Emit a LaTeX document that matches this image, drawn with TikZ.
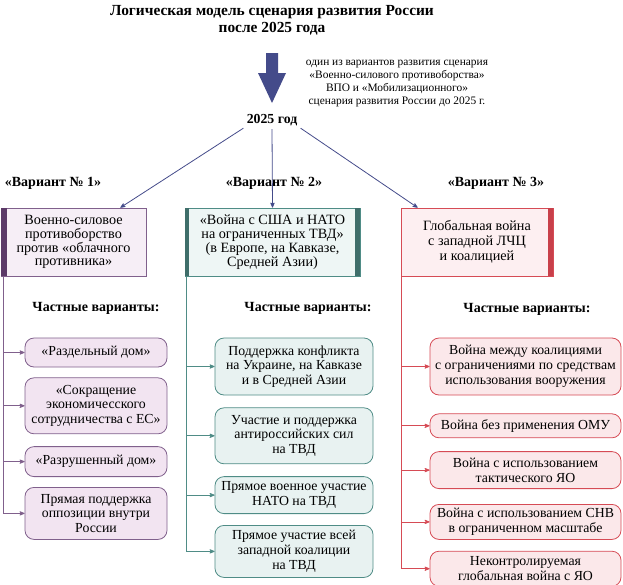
\documentclass[tikz,border=0pt]{standalone}
\usepackage{fontspec}
\setmainfont{Liberation Serif}
\usepackage{xcolor}
\definecolor{colorBlue}{HTML}{444B8A}
\definecolor{colorLilac}{HTML}{80608C}
\definecolor{colorLilacBar}{HTML}{5C3A68}
\definecolor{colorLilacFill}{HTML}{F6EEF6}
\definecolor{colorLilacSub}{HTML}{F2E4F1}
\definecolor{colorTeal}{HTML}{4F8C86}
\definecolor{colorTealBar}{HTML}{3F6E6A}
\definecolor{colorTealFill}{HTML}{EEF6F5}
\definecolor{colorTealSub}{HTML}{E8F2F1}
\definecolor{colorRed}{HTML}{D64B55}
\definecolor{colorRedBar}{HTML}{C8404A}
\definecolor{colorRedFill}{HTML}{FDEFF1}
\definecolor{colorRedSub}{HTML}{FBE8EA}
\usepackage{tikz}
\usetikzlibrary{arrows, positioning}
\tikzset{
  titletext/.style={align=center, inner sep=0pt, font=\bfseries\fontsize{15.4}{17}\selectfont},
  notetext/.style={align=center, inner sep=0pt, font=\fontsize{11.4}{13}\selectfont},
  boldtext/.style={inner sep=0pt, font=\bfseries\fontsize{14}{15}\selectfont},
  varbox/.style={draw, line width=0.8pt, inner sep=2pt, align=center, minimum height=68pt, font=\fontsize{14.2}{13.8}\selectfont},
  subbox/.style={draw, line width=0.8pt, rounded corners=9pt, inner sep=2pt, align=center, font=\fontsize{13.8}{14.8}\selectfont},
  lilac/.style={draw=colorLilac, fill=colorLilacSub, minimum width=142pt},
  teal/.style={draw=colorTeal, fill=colorTealSub, minimum width=158pt},
  red/.style={draw=colorRed, fill=colorRedSub, minimum width=191pt},
}

\begin{document}
\begin{tikzpicture}[>=stealth', x=1pt, y=-1pt, line width=0.8pt, node distance=11pt]
\useasboundingbox (0,0) rectangle (623,584);
% title and the big arrow
\node[titletext] (title) at (272,20) {Логическая модель сценария развития России\\после 2025 года};
\fill[colorBlue] (266,53) -- (278,53) -- (278,73) -- (286,73) -- (272,103) -- (258,73) -- (266,73) -- cycle;
\node[notetext] (note) at (397,84) {один из вариантов развития сценария\\«Военно-силового противоборства»\\ВПО и «Мобилизационного»\\сценария развития России до 2025 г.};
\node[boldtext, font=\bfseries\fontsize{13.8}{15}\selectfont] (y2025) at (272,120) {2025 год};

% three variants
\node[boldtext] (n1) at (53,183) {«Вариант № 1»};
\node[boldtext] (n2) at (274,183) {«Вариант № 2»};
\node[boldtext] (n3) at (496,183) {«Вариант № 3»};
\node[varbox, draw=colorLilac, fill=colorLilacFill, minimum width=145pt] (v1) at (73.5,242) {Военно-силовое\\противоборство\\против «облачного\\противника»};
\node[varbox, draw=colorTeal, fill=colorTealFill, minimum width=175pt] (v2) at (272.5,242) {«Война с США и НАТО\\на ограниченных ТВД»\\(в Европе, на Кавказе,\\Средней Азии)};
\node[varbox, draw=colorRed, fill=colorRedFill, minimum width=152pt, font=\fontsize{14.2}{15}\selectfont] (v3) at (477,242) {Глобальная война\\с западной ЛЧЦ\\и коалицией};
\fill[colorLilacBar] (v1.north west) rectangle ([xshift=6pt]v1.south west);
\fill[colorTealBar] (v2.north west) rectangle ([xshift=4pt]v2.south west);
\fill[colorTealBar] ([xshift=-5pt]v2.north east) rectangle (v2.south east);
\fill[colorRedBar] ([xshift=-5pt]v3.north east) rectangle (v3.south east);
\draw [->, colorBlue] ([shift={(-3pt,-2pt)}]y2025.south west) -- ([xshift=-26pt]v1.north east);
\draw [->, colorBlue] ([yshift=-3pt]y2025.south) -- (v2.north);
\draw [->, colorBlue] ([shift={(3pt,-2pt)}]y2025.south east) -- ([xshift=17pt]v3.north west);

\node[boldtext] (p1) at (96,308) {Частные варианты:};
\node[boldtext] (p2) at (308,308) {Частные варианты:};
\node[boldtext] (p3) at (527,309) {Частные варианты:};

% variant 1
\node[subbox, lilac, minimum height=29pt] (s11) at (96,352.5) {«Раздельный дом»};
\node[subbox, lilac, minimum height=56pt, below=10pt of s11] (s12) {«Сокращение\\экономичесского\\сотрудничества с ЕС»};
\node[subbox, lilac, minimum height=30pt, below=12pt of s12] (s13) {«Разрушенный дом»};
\node[subbox, lilac, minimum height=52pt, below=10pt of s13] (s14) {Прямая поддержка\\оппозиции внутри\\России};

% variant 2
\node[subbox, teal, minimum height=57pt] (s21) at (294,366.5) {Поддержка конфликта\\на Украине, на Кавказе\\и в Средней Азии};
\node[subbox, teal, minimum height=56pt, below=12pt of s21] (s22) {Участие и поддержка\\антироссийских сил\\на ТВД};
\node[subbox, teal, minimum height=37pt, below=12pt of s22] (s23) {Прямое военное участие\\НАТО на ТВД};
\node[subbox, teal, minimum height=52pt, below=11pt of s23] (s24) {Прямое участие всей\\западной коалиции\\на ТВД};

% variant 3
\node[subbox, red, minimum height=57pt] (s31) at (525.5,366.5) {Война между коалициями\\с ограничениями по средствам\\использования вооружения};
\node[subbox, red, minimum height=24pt, below=18pt of s31] (s32) {Война без применения ОМУ};
\node[subbox, red, minimum height=37pt, below=13pt of s32] (s33) {Война с использованием\\тактического ЯО};
\node[subbox, red, minimum height=35pt, below=15pt of s33] (s34) {Война с использованием СНВ\\в ограниченном масштабе};
\node[subbox, red, minimum height=35pt, below=11pt of s34] (s35) {Неконтролируемая\\глобальная война с ЯО};

% trunks
\coordinate (t1) at ([xshift=3pt]v1.south west);
\coordinate (t2) at ([xshift=1.5pt]v2.south west);
\coordinate (t3) at ([xshift=1pt]v3.south west);
\draw [->, colorLilac] (t1) |- (s14.west);
\foreach \s in {s11,s12,s13} \draw [->, colorLilac] (t1 |- \s.west) -- (\s.west);
\draw [->, colorTeal] (t2) |- (s24.west);
\foreach \s in {s21,s22,s23} \draw [->, colorTeal] (t2 |- \s.west) -- (\s.west);
\draw [->, colorRed] (t3) |- (s35.west);
\foreach \s in {s31,s32,s33,s34} \draw [->, colorRed] (t3 |- \s.west) -- (\s.west);
\end{tikzpicture}
\end{document}
